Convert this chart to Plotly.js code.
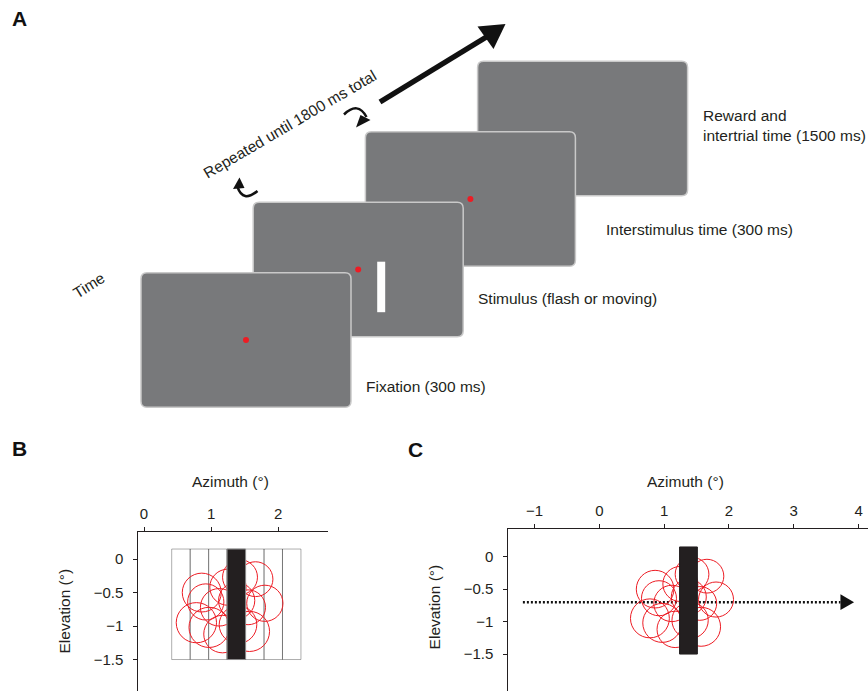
<!DOCTYPE html>
<html><head><meta charset="utf-8">
<script src="https://cdn.plot.ly/plotly-3.0.1.min.js"></script>
<style>html,body{margin:0;padding:0;background:#fff}</style>
</head><body><div id="chart" style="width:868px;height:691px"></div>
<script>
// ---------- Panel A : trial sequence ----------
const screenLabels = ['Fixation (300 ms)', 'Stimulus (flash or moving)', 'Interstimulus time (300 ms)', 'Reward and<br>intertrial time (1500 ms)'];
const screenHasDot = [true, true, true, false];
const screenHasBar = [false, true, false, false];
const loopLabel = 'Repeated until 1800 ms total';
const timeLabel = 'Time';
const panelLetters = ['A', 'B', 'C'];

// ---------- Panels B, C : receptive fields and stimulus ----------
const flashCenters = [0.55, 0.825, 1.10, 1.375, 1.65, 1.925, 2.20];   // azimuth (deg)
const barWidth = 0.275;                                              // deg
const barElevation = [-1.5, 0.15];                                   // deg
const movingBarIndex = 3;
const rfX = [0.86, 0.78, 0.97, 1.43, 1.66, 1.80, 1.57, 1.17, 1.12, 0.92, 1.38, 1.40, 1.55, 1.25];
const rfY = [-0.50, -0.95, -1.02, -0.27, -0.30, -0.66, -1.08, -1.12, -0.72, -0.64, -0.62, -0.98, -0.72, -0.42];
const rfR = [0.29, 0.30, 0.30, 0.26, 0.26, 0.27, 0.30, 0.28, 0.28, 0.27, 0.27, 0.28, 0.26, 0.27];
const motionX = [-1.18, 3.72];
const motionY = [-0.7, -0.7];
const motionTip = 3.93;
const xTicksB = [0, 1, 2];
const xTicksC = [-1, 0, 1, 2, 3, 4];
const yTicks = [0, -0.5, -1, -1.5];

const INK = '#231f20';
const RED = '#ed1c24';
const FONT = 'Liberation Sans, Arial, Helvetica, sans-serif';
const W = 868, H = 691;

// ---------- layout geometry (pixels) ----------
const scr0 = [141, 272.7], scrStep = [112.2, -70.5], scrW = 210, scrH = 134.5;
const labelPos = [[364, 386], [476, 298], [604, 229], [700.7, 125]];

function rrect(x, y, w, h, r) {
  return `M${x+r},${y} L${x+w-r},${y} Q${x+w},${y} ${x+w},${y+r} L${x+w},${y+h-r} Q${x+w},${y+h} ${x+w-r},${y+h} ` +
         `L${x+r},${y+h} Q${x},${y+h} ${x},${y+h-r} L${x},${y+r} Q${x},${y} ${x+r},${y} Z`;
}

const shapes = [];
const annotations = [];

// screens, back to front
for (let i = screenLabels.length - 1; i >= 0; i--) {
  const x = scr0[0] + i * scrStep[0], y = scr0[1] + i * scrStep[1];
  shapes.push({type: 'path', xref: 'x3', yref: 'y3', layer: 'above', path: rrect(x, y, scrW, scrH, 6),
    fillcolor: '#78797b', line: {color: '#c9c9c9', width: 1.5}});
  if (screenHasDot[i]) {
    const cx = x + scrW / 2, cy = y + scrH / 2;
    shapes.push({type: 'circle', xref: 'x3', yref: 'y3', layer: 'above', x0: cx - 3, x1: cx + 3, y0: cy - 3, y1: cy + 3,
      fillcolor: RED, line: {width: 0}});
  }
  if (screenHasBar[i]) {
    shapes.push({type: 'rect', xref: 'x3', yref: 'y3', layer: 'above', x0: x + 124, x1: x + 132, y0: y + 59.5, y1: y + 110,
      fillcolor: '#ffffff', line: {width: 0}});
  }
  annotations.push({xref: 'x3', yref: 'y3', x: labelPos[i][0], y: labelPos[i][1], text: screenLabels[i], showarrow: false,
    xanchor: 'left', yanchor: 'middle', align: 'left', font: {family: FONT, size: 15.5, color: INK}});
}

// big time arrow
shapes.push({type: 'line', xref: 'x3', yref: 'y3', layer: 'above', x0: 380, y0: 102, x1: 488, y1: 36, line: {color: '#111', width: 5.5}});
shapes.push({type: 'path', xref: 'x3', yref: 'y3', layer: 'above', path: 'M505.5,24 L477.5,26.5 L493.5,49 Z', fillcolor: '#111', line: {width: 0}});
// curly loop arrows
shapes.push({type: 'path', xref: 'x3', yref: 'y3', layer: 'above', path: 'M257.5,191 Q243,203 237.5,187', line: {color: '#111', width: 2.5}});
shapes.push({type: 'path', xref: 'x3', yref: 'y3', layer: 'above', path: 'M233,189 L239.5,177.5 L244.5,188 Z', fillcolor: '#111', line: {width: 0}});
shapes.push({type: 'path', xref: 'x3', yref: 'y3', layer: 'above', path: 'M344,114.5 Q358,101 366.5,117', line: {color: '#111', width: 2.5}});
shapes.push({type: 'path', xref: 'x3', yref: 'y3', layer: 'above', path: 'M356,127.5 L360.5,115 L370.5,120 Z', fillcolor: '#111', line: {width: 0}});

annotations.push({xref: 'x3', yref: 'y3', x: 289, y: 124, text: loopLabel, textangle: -30.5, showarrow: false,
  font: {family: FONT, size: 15.5, color: INK}});
annotations.push({xref: 'x3', yref: 'y3', x: 88.5, y: 285.5, text: timeLabel, textangle: -32, showarrow: false,
  font: {family: FONT, size: 15.5, color: INK}});

// panel letters
[[19, 18], [19, 448], [415, 449]].forEach((p, i) => {
  annotations.push({xref: 'x3', yref: 'y3', x: p[0], y: p[1], text: '<b>' + panelLetters[i] + '</b>', showarrow: false,
    font: {family: FONT, size: 21, color: '#111'}});
});

// axis titles (B and C)
[[230, 481.7], [685.5, 481.7]].forEach(p => annotations.push({xref: 'x3', yref: 'y3', x: p[0], y: p[1], text: 'Azimuth (°)',
  showarrow: false, font: {family: FONT, size: 15.5, color: INK}}));
[[64, 611.5], [434.7, 606.7]].forEach(p => annotations.push({xref: 'x3', yref: 'y3', x: p[0], y: p[1], text: 'Elevation (°)',
  textangle: -90, showarrow: false, font: {family: FONT, size: 15.5, color: INK}}));

// ---------- Panel B shapes ----------
flashCenters.forEach(c => shapes.push({type: 'rect', xref: 'x', yref: 'y', layer: 'above',
  x0: c - barWidth / 2, x1: c + barWidth / 2, y0: barElevation[0], y1: barElevation[1],
  line: {color: 'rgba(0,0,0,0.32)', width: 1}}));
['x', 'x2'].forEach((xa, k) => {
  const ya = k === 0 ? 'y' : 'y2';
  rfX.forEach((cx, i) => shapes.push({type: 'circle', xref: xa, yref: ya, layer: 'above',
    x0: cx - rfR[i], x1: cx + rfR[i], y0: rfY[i] - rfR[i], y1: rfY[i] + rfR[i], line: {color: RED, width: 1}}));
  const c = flashCenters[movingBarIndex];
  shapes.push({type: 'rect', xref: xa, yref: ya, layer: 'above', x0: c - barWidth / 2, x1: c + barWidth / 2,
    y0: barElevation[0], y1: barElevation[1], fillcolor: INK, line: {color: k === 0 ? '#8a8a8a' : INK, width: 1}});
});
// motion arrowhead (C)
shapes.push({type: 'path', xref: 'x2', yref: 'y2', layer: 'above',
  path: `M${motionX[1]},${motionY[1] + 0.12} L${motionTip},${motionY[1]} L${motionX[1]},${motionY[1] - 0.12} Z`,
  fillcolor: '#111', line: {width: 0}});

const traces = [
  {x: motionX, y: motionY, xaxis: 'x2', yaxis: 'y2', mode: 'lines', line: {color: '#111', width: 2.5, dash: '2px,2px'}, hoverinfo: 'skip'},
  {x: [], y: [], xaxis: 'x', yaxis: 'y', mode: 'markers'},
  {x: [], y: [], xaxis: 'x3', yaxis: 'y3', mode: 'markers'}
];

const axStyle = {showline: true, linecolor: INK, linewidth: 1, ticks: 'outside', ticklen: 4, tickcolor: INK, tickwidth: 1,
  showgrid: false, zeroline: false, tickfont: {family: FONT, size: 15, color: INK}, fixedrange: true};

const layout = {
  width: W, height: H, margin: {l: 0, r: 0, t: 0, b: 0}, autosize: false,
  paper_bgcolor: '#ffffff', plot_bgcolor: 'rgba(0,0,0,0)', showlegend: false,
  xaxis: Object.assign({}, axStyle, {domain: [138.3 / W, 328.3 / W], range: [-0.085, 2.745], side: 'top', anchor: 'y', tickvals: xTicksB, ticklabelstandoff: 2}),
  yaxis: Object.assign({}, axStyle, {domain: [0, 1 - 532.3 / H], range: [-1.97, 0.40], anchor: 'x', tickvals: yTicks, ticklabelstandoff: 7}),
  xaxis2: Object.assign({}, axStyle, {domain: [508.3 / W, 1], range: [-1.405, 4.145], side: 'top', anchor: 'y2', tickvals: xTicksC, ticklabelstandoff: 2}),
  yaxis2: Object.assign({}, axStyle, {domain: [0, 1 - 529.3 / H], range: [-2.069, 0.422], anchor: 'x2', tickvals: yTicks, ticklabelstandoff: 7}),
  xaxis3: {domain: [0, 1], range: [0, W], visible: false, anchor: 'y3', fixedrange: true},
  yaxis3: {domain: [0, 1], range: [H, 0], visible: false, anchor: 'x3', fixedrange: true},
  shapes: shapes, annotations: annotations
};

Plotly.newPlot('chart', traces, layout, {staticPlot: true, displayModeBar: false});
</script></body></html>
